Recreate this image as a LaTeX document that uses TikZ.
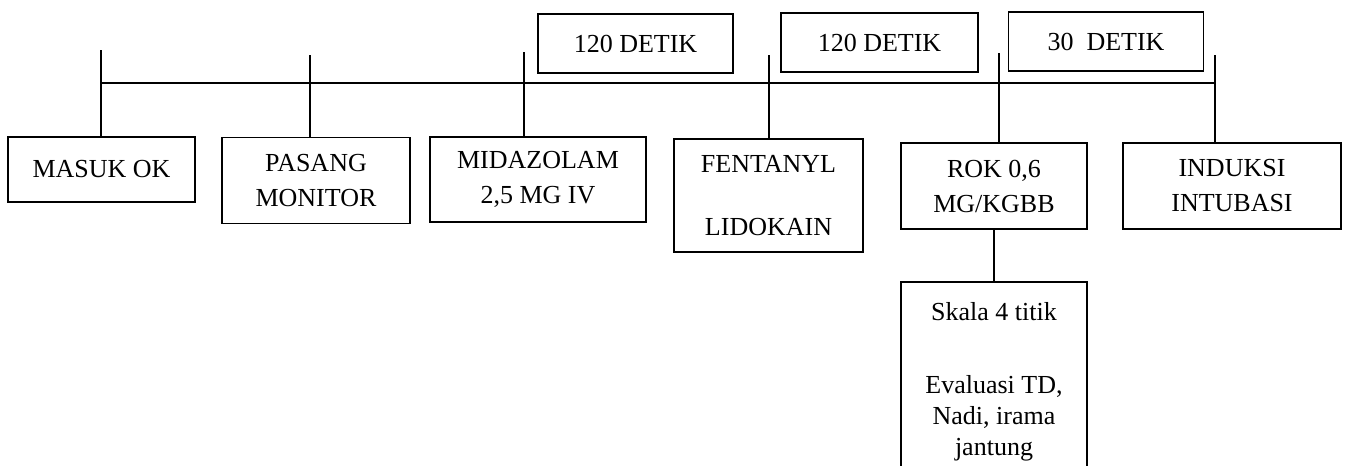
\documentclass[tikz,border=0pt]{standalone}
\usepackage{fontspec}
\setmainfont{Liberation Serif}
\usetikzlibrary{positioning}

\begin{document}
\begin{tikzpicture}[x=0.5pt, y=-0.5pt,
    stepbox/.style={rectangle, draw=black, line width=0.9pt, inner sep=0pt,
                    align=center, minimum width=93.5pt, minimum height=43pt,
                    font=\fontsize{13}{17.5}\selectfont},
    timebox/.style={stepbox, minimum width=97.5pt, minimum height=29.5pt},
    timeline/.style={line width=0.9pt}]
    \useasboundingbox (0,0) rectangle (1346,466);

    % steps along the time line
    \node[stepbox, minimum height=32.5pt] (masuk) at (101.5,169.5) {MASUK OK};
    \node[stepbox, minimum width=94pt] (pasang) at (316,180.5) {PASANG\\MONITOR};
    \node[stepbox, minimum width=108pt, minimum height=42.5pt] (midazolam) at (538,179.5) {MIDAZOLAM\\2,5 MG IV};
    \node[stepbox, minimum width=94.5pt, minimum height=56.5pt] (fentanyl) at (768.5,195.5) {FENTANYL\\[14pt]LIDOKAIN};
    \node[stepbox, minimum width=93pt] (rok) at (994,186) {ROK 0,6\\MG/KGBB};
    \node[stepbox, minimum width=109pt] (induksi) at (1232,186) {INDUKSI\\INTUBASI};

    \node[stepbox, below=25.5pt of rok, minimum width=93pt, minimum height=100pt,
          font=\fontsize{13}{15.5}\selectfont] (skala)
        {Skala 4 titik\\[21pt]Evaluasi TD,\\Nadi, irama\\jantung};

    % intervals
    \node[timebox] (detik1) at (635.5,43.5) {120 DETIK};
    \node[timebox, minimum width=98.5pt] (detik2) at (879.5,42.5) {120 DETIK};
    \node[timebox] (detik3) at (1106,41.5) {30~~DETIK};

    % time line and ticks
    \coordinate (tick1) at (101,50);
    \coordinate (tick2) at (310,55);
    \coordinate (tick3) at (524,52);
    \coordinate (tick4) at (769,55);
    \coordinate (tick5) at (999,53);
    \coordinate (tick6) at (1215,55);
    \coordinate (axisL) at (101,83);
    \coordinate (axisR) at (1215,83);

    \draw[timeline] (axisL) -- (axisR);
    \draw[timeline] (tick1) -- (tick1 |- masuk.north);
    \draw[timeline] (tick2) -- (tick2 |- pasang.north);
    \draw[timeline] (tick3) -- (tick3 |- midazolam.north);
    \draw[timeline] (tick4) -- (tick4 |- fentanyl.north);
    \draw[timeline] (tick5) -- (tick5 |- rok.north);
    \draw[timeline] (tick6) -- (tick6 |- induksi.north);
    \draw[timeline] (rok.south) -- (skala.north);

\end{tikzpicture}
\end{document}
